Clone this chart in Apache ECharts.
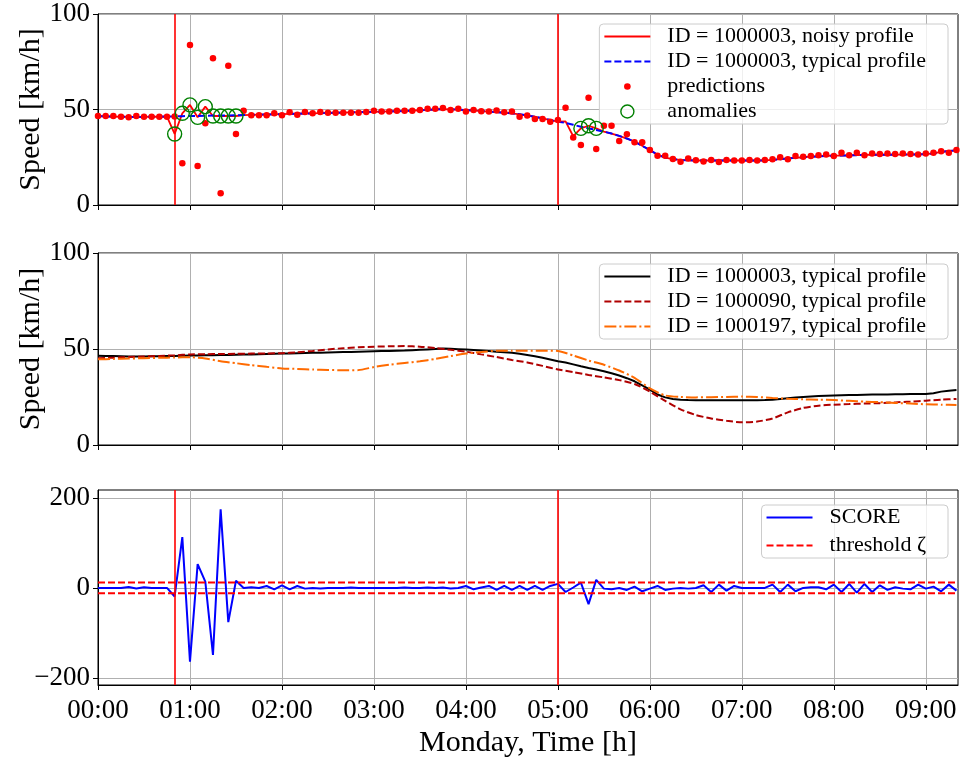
<!DOCTYPE html>
<html>
<head>
<meta charset="utf-8">
<script src="https://cdn.jsdelivr.net/npm/echarts@6/dist/echarts.min.js"></script>
<style>
  html, body { margin: 0; padding: 0; background: #fff; }
  #chart { width: 963px; height: 762px; }
</style>
</head>
<body>
<div id="chart"></div>
<script>
// Sampling of the profiles, in minutes after midnight (Monday)
const STEP_MIN = 5;        // detector 1000003: one value every 5 min
const MID_STEP_MIN = 10;   // neighbour detectors: one value every 10 min
const timeRange = [0, 561];
const hourTicks = [0, 60, 120, 180, 240, 300, 360, 420, 480, 540];
const speedTicks = [0, 50, 100];
const scoreTicks = [-200, 0, 200];
const scoreRange = [-216, 218];
const eventTimes = [50, 300];   // injected disturbances at 00:50 and 05:00
const threshold = 12;

// ID = 1000003, typical profile [km/h]
const typical03 = [
  46.5, 46.4, 46.3, 46.2, 46.1, 46.1, 46.1, 46.2, 46.2, 46.3,
  46.4, 46.5, 46.6, 46.6, 46.7, 46.8, 46.9, 46.9, 47.0, 47.1,
  47.2, 47.3, 47.4, 47.5, 47.6, 47.7, 47.8, 47.9, 48.0, 48.1,
  48.2, 48.3, 48.4, 48.5, 48.6, 48.7, 48.8, 48.9, 49.0, 49.1,
  49.2, 49.4, 49.6, 49.8, 50.0, 50.2, 50.1, 49.9, 49.7, 49.5,
  49.2, 48.9, 48.6, 48.3, 48.0, 47.5, 46.9, 46.2, 45.4, 44.5,
  43.6, 43.0, 42.0, 41.0, 40.1, 39.3, 38.4, 37.4, 36.2, 34.8,
  33.2, 31.0, 28.8, 26.3, 24.8, 24.0, 23.6, 23.4, 23.3, 23.3,
  23.3, 23.3, 23.3, 23.3, 23.3, 23.3, 23.3, 23.4, 23.6, 24.0,
  24.4, 24.7, 25.0, 25.3, 25.5, 25.7, 25.8, 25.9, 26.0, 26.1,
  26.2, 26.3, 26.3, 26.3, 26.4, 26.4, 26.5, 26.5, 26.6, 27.0,
  27.8, 28.3, 28.6
];

// ID = 1000003, noisy profile [km/h]
const noisy03 = [
  46.5, 46.4, 46.3, 46.2, 46.1, 46.1, 46.1, 46.2, 46.2, 46.3,
  37.2, 48.0, 52.4, 45.9, 51.5, 46.6, 46.6, 46.6, 46.6, 47.1,
  47.2, 47.3, 47.4, 47.5, 47.6, 47.7, 47.8, 47.9, 48.0, 48.1,
  48.2, 48.3, 48.4, 48.5, 48.6, 48.7, 48.8, 48.9, 49.0, 49.1,
  49.2, 49.4, 49.6, 49.8, 50.0, 50.2, 50.1, 49.9, 49.7, 49.5,
  49.2, 48.9, 48.6, 48.3, 48.0, 47.5, 46.9, 46.2, 45.4, 44.5,
  43.6, 43.8, 36.0, 40.1, 41.5, 40.1, 38.4, 37.4, 36.2, 34.8,
  33.2, 31.0, 28.8, 26.3, 24.8, 24.0, 23.6, 23.4, 23.3, 23.3,
  23.3, 23.3, 23.3, 23.3, 23.3, 23.3, 23.3, 23.4, 23.6, 24.0,
  24.4, 24.7, 25.0, 25.3, 25.5, 25.7, 25.8, 25.9, 26.0, 26.1,
  26.2, 26.3, 26.3, 26.3, 26.4, 26.4, 26.5, 26.5, 26.6, 27.0,
  27.8, 28.3, 28.6
];

// model predictions [km/h]
const predictions = [
  46.6, 46.6, 46.6, 46.2, 45.9, 46.6, 46.2, 46.2, 46.2, 46.2,
  46.3, 21.8, 83.8, 20.4, 42.8, 76.8, 6.1, 72.9, 37.2, 49.4,
  47.0, 47.0, 47.0, 48.0, 47.0, 48.5, 47.3, 48.7, 48.0, 48.7,
  48.3, 48.3, 48.3, 48.3, 48.3, 48.7, 49.4, 49.0, 49.0, 49.4,
  49.4, 49.4, 49.7, 50.4, 50.4, 50.8, 49.7, 50.4, 49.0, 49.7,
  49.1, 49.0, 49.5, 48.5, 48.9, 46.2, 46.8, 45.0, 45.0, 43.6,
  44.5, 50.9, 35.3, 31.4, 56.2, 29.3, 41.5, 41.5, 33.5, 37.0,
  32.8, 32.8, 28.8, 25.8, 25.8, 24.1, 22.7, 24.4, 23.4, 22.8,
  23.6, 22.5, 23.6, 23.3, 23.3, 23.6, 23.3, 23.6, 23.9, 25.0,
  23.9, 25.7, 25.3, 25.7, 26.0, 26.4, 25.7, 27.4, 26.0, 27.4,
  26.0, 27.0, 26.7, 27.0, 26.7, 27.0, 26.7, 26.4, 27.0, 27.4,
  28.1, 27.4, 28.8
];

// samples flagged as anomalies (indices into the 5-min series)
const anomalyIdx = [10, 11, 12, 13, 14, 15, 16, 17, 18, 63, 64, 65];

// anomaly score
const score = [
  0, 0, 0, 0, 2, -1, 1.5, 0, 0, 0,
  -19, 113, -164, 53, 14, -149, 175, -76, 16, 0,
  1.5, 0, 4.4, -3, 5.9, -3, 4.4, -1.5, 0, -1,
  0, 0, 0, 1, 0, 0, 0, 0, 0, 0,
  1, 0, 0, 1, 0, 1, -1, 0, 4.4, -3,
  1, 4.4, -4.4, 4.4, -4.4, 4.4, -4.4, 4.4, -4.4, 4.4,
  9, -9, 1, 12, -36, 18, -1.5, -3, 0, -4.4,
  3, -7.4, -1.5, 4.4, -4.4, -1.5, 0, -1.5, 0, 5.9,
  -8.9, 7.4, -5.9, 4.4, 0, 0, 0, 0, 7.4, -8.9,
  7.4, -7.4, 0, 1.5, 1.5, -3, 7.4, -8.9, 8.9, -10.4,
  8.9, -8.9, 5.9, -4.4, 1.5, -1.5, -3, 7.4, -1.5, 3,
  -7.4, 7.4, -5.9
];

// ID = 1000090, typical profile [km/h], 10-min steps
const typical90 = [
  45.2, 45.5, 45.8, 46.1, 46.4, 46.7, 47.2, 47.3, 47.4, 47.5,
  47.6, 47.7, 47.8, 48.3, 49.0, 49.8, 50.4, 50.9, 51.2, 51.4,
  51.5, 51.2, 50.5, 49.6, 48.6, 47.2, 45.8, 44.3, 43.0, 41.2,
  39.3, 38.0, 36.5, 35.2, 33.8, 31.8, 27.8, 23.0, 18.6, 15.6,
  13.8, 12.6, 11.8, 12.2, 13.8, 17.0, 19.3, 20.5, 21.0, 21.3,
  21.6, 21.8, 22.2, 22.6, 23.1, 23.6, 24.0
];

// ID = 1000197, typical profile [km/h], 10-min steps
const typical197 = [
  44.6, 44.8, 45.0, 45.2, 45.4, 45.6, 45.7, 45.1, 43.6, 42.6,
  41.6, 40.7, 39.9, 39.6, 39.3, 39.1, 38.9, 39.0, 40.6, 41.8,
  42.7, 43.6, 44.8, 46.3, 47.6, 48.4, 49.1, 49.1, 49.1, 49.1,
  49.0, 46.6, 44.0, 41.8, 38.8, 35.0, 29.5, 25.8, 25.0, 24.8,
  24.9, 25.0, 25.2, 25.0, 24.5, 24.1, 23.8, 23.6, 23.4, 23.0,
  22.6, 22.3, 21.9, 21.6, 21.2, 21.0, 20.8
];

const legendLabels = {
  noisy03: 'ID = 1000003, noisy profile',
  typical03: 'ID = 1000003, typical profile',
  pred: 'predictions',
  anom: 'anomalies',
  mid03: 'ID = 1000003, typical profile',
  mid90: 'ID = 1000090, typical profile',
  mid197: 'ID = 1000197, typical profile',
  score: 'SCORE',
  thr: 'threshold \u03B6'
};

// ---------------------------------------------------------------------------
const FONT = '"Liberation Serif", "DejaVu Serif", serif';
const pairs = (vals, step) => vals.map((v, i) => [i * step, v]);
const hhmm = m => String(Math.floor(m / 60)).padStart(2, '0') + ':' + String(m % 60).padStart(2, '0');
const minus = v => (v < 0 ? '\u2212' + (-v) : String(v));

const gridBox = [
  { top: 14, height: 191 },
  { top: 253, height: 192 },
  { top: 490, height: 195 }
];

function timeAxis(gridIndex, withLabels) {
  return {
    type: 'value', gridIndex, min: timeRange[0], max: timeRange[1],
    axisLine: { show: true, onZero: false, lineStyle: { color: '#000', width: 1 } },
    axisTick: { show: true, inside: false, length: 5, customValues: hourTicks, lineStyle: { color: '#000', width: 1 } },
    axisLabel: { show: withLabels, customValues: hourTicks, formatter: hhmm, color: '#000',
                 fontFamily: FONT, fontSize: 27, margin: 12 },
    splitLine: { show: true, lineStyle: { color: '#b0b0b0', width: 1 } },
    name: withLabels ? 'Monday, Time [h]' : '',
    nameLocation: 'middle', nameGap: 43, nameMoveOverlap: false,
    nameTextStyle: { color: '#000', fontFamily: FONT, fontSize: 30 }
  };
}

function valueAxis(gridIndex, range, ticks, name, fmt) {
  return {
    type: 'value', gridIndex, min: range[0], max: range[1],
    axisLine: { show: true, onZero: false, lineStyle: { color: '#000', width: 1 } },
    axisTick: { show: true, inside: false, length: 5, customValues: ticks, lineStyle: { color: '#000', width: 1 } },
    axisLabel: { customValues: ticks, formatter: fmt || (v => String(v)), color: '#000',
                 fontFamily: FONT, fontSize: 27, margin: 8 },
    splitLine: { show: true, lineStyle: { color: '#b0b0b0', width: 1 } },
    name, nameLocation: 'middle', nameGap: 52, nameMoveOverlap: false,
    nameTextStyle: { color: '#000', fontFamily: FONT, fontSize: 30 }
  };
}

const eventLines = {
  silent: true, symbol: ['none', 'none'], label: { show: false },
  lineStyle: { color: '#ff0000', width: 1.6, type: 'solid' },
  emphasis: { disabled: true },
  data: eventTimes.map(t => ({ xAxis: t }))
};

const PRED_ICON = 'path://M0,0M24,24M12,7.6A4.4,4.4,0,1,1,12,16.4A4.4,4.4,0,1,1,12,7.6Z';
const ANOM_ICON = 'path://M0,0M24,24M12,3.3A8.7,8.7,0,1,1,12,20.7A8.7,8.7,0,1,1,12,3.3Z';
const NO_SYMBOL = { opacity: 0 };   // legend entries of line series: handle only

function legendBox(top, data, gap) {
  return {
    orient: 'vertical', right: 15, top,
    data, selectedMode: false,
    formatter: n => legendLabels[n],
    itemWidth: 46, itemHeight: 18, itemGap: gap || 0,
    padding: [0, 22, 0, 4],
    backgroundColor: 'rgba(255,255,255,0.8)',
    borderColor: '#cccccc', borderWidth: 1, borderRadius: 4,
    textStyle: { color: '#000', fontFamily: FONT, fontSize: 22, lineHeight: 25, padding: [0, 0, 0, 12] }
  };
}

const anomalies = anomalyIdx.map(i => [i * STEP_MIN, noisy03[i]]);
const lineBase = { type: 'line', symbol: 'none', showSymbol: false, animation: false, emphasis: { disabled: true } };

const option = {
  animation: false,
  backgroundColor: '#fff',
  grid: gridBox.map(g => ({
    left: 98, width: 860, top: g.top, height: g.height,
    show: true, borderColor: '#000', borderWidth: 1, backgroundColor: 'transparent',
    containLabel: false, outerBoundsMode: 'none'
  })),
  xAxis: [timeAxis(0, false), timeAxis(1, false), timeAxis(2, true)],
  yAxis: [
    valueAxis(0, [0, 100], speedTicks, 'Speed [km/h]'),
    valueAxis(1, [0, 100], speedTicks, 'Speed [km/h]'),
    valueAxis(2, scoreRange, scoreTicks, '', minus)
  ],
  legend: [
    legendBox(24, [
      { name: 'noisy03', itemStyle: NO_SYMBOL },
      { name: 'typical03', itemStyle: NO_SYMBOL },
      { name: 'pred', icon: PRED_ICON },
      { name: 'anom', icon: ANOM_ICON,
        itemStyle: { color: 'rgba(0,0,0,0)', borderColor: '#008000', borderWidth: 1.4 } }
    ]),
    legendBox(264, [
      { name: 'mid03', itemStyle: NO_SYMBOL },
      { name: 'mid90', itemStyle: NO_SYMBOL },
      { name: 'mid197', itemStyle: NO_SYMBOL }
    ]),
    legendBox(505, [
      { name: 'score', itemStyle: NO_SYMBOL },
      { name: 'thr', itemStyle: NO_SYMBOL }
    ], 3)
  ],
  series: [
    // top panel
    Object.assign({}, lineBase, {
      name: 'noisy03', xAxisIndex: 0, yAxisIndex: 0, z: 2,
      data: pairs(noisy03, STEP_MIN),
      lineStyle: { color: '#ff0000', width: 1.8 }, itemStyle: { color: '#ff0000' },
      markLine: eventLines
    }),
    Object.assign({}, lineBase, {
      name: 'typical03', xAxisIndex: 0, yAxisIndex: 0, z: 3,
      data: pairs(typical03, STEP_MIN),
      lineStyle: { color: '#0000ff', width: 2, type: [7, 3] }, itemStyle: { color: '#0000ff' }
    }),
    {
      name: 'pred', type: 'scatter', xAxisIndex: 0, yAxisIndex: 0, z: 4,
      data: pairs(predictions, STEP_MIN), symbol: 'circle', symbolSize: 6.5,
      itemStyle: { color: '#ff0000', opacity: 1 }, emphasis: { disabled: true }
    },
    {
      name: 'anom', type: 'scatter', xAxisIndex: 0, yAxisIndex: 0, z: 5,
      data: anomalies, symbol: 'circle', symbolSize: 14,
      itemStyle: { color: 'rgba(0,0,0,0)', borderColor: '#008000', borderWidth: 1.4, opacity: 1 },
      emphasis: { disabled: true }
    },
    // middle panel
    Object.assign({}, lineBase, {
      name: 'mid03', xAxisIndex: 1, yAxisIndex: 1, z: 3,
      data: pairs(typical03, STEP_MIN),
      lineStyle: { color: '#000000', width: 2 }, itemStyle: { color: '#000000' }
    }),
    Object.assign({}, lineBase, {
      name: 'mid90', xAxisIndex: 1, yAxisIndex: 1, z: 4, smooth: 0.2,
      data: pairs(typical90, MID_STEP_MIN),
      lineStyle: { color: '#b00000', width: 2, type: [7, 3] }, itemStyle: { color: '#b00000' }
    }),
    Object.assign({}, lineBase, {
      name: 'mid197', xAxisIndex: 1, yAxisIndex: 1, z: 5, smooth: 0.2,
      data: pairs(typical197, MID_STEP_MIN),
      lineStyle: { color: '#ff6a00', width: 2, type: [12, 3, 2, 3] }, itemStyle: { color: '#ff6a00' }
    }),
    // bottom panel
    Object.assign({}, lineBase, {
      name: 'score', xAxisIndex: 2, yAxisIndex: 2, z: 3,
      data: pairs(score, STEP_MIN),
      lineStyle: { color: '#0000ff', width: 2 }, itemStyle: { color: '#0000ff' },
      markLine: eventLines
    }),
    Object.assign({}, lineBase, {
      name: 'thr', xAxisIndex: 2, yAxisIndex: 2, z: 4,
      data: [[timeRange[0], threshold], [timeRange[1], threshold]],
      lineStyle: { color: '#ff0000', width: 2, type: [7, 3] }, itemStyle: { color: '#ff0000' }
    }),
    Object.assign({}, lineBase, {
      name: 'thr', xAxisIndex: 2, yAxisIndex: 2, z: 4,
      data: [[timeRange[0], -threshold], [timeRange[1], -threshold]],
      lineStyle: { color: '#ff0000', width: 2, type: [7, 3] }, itemStyle: { color: '#ff0000' }
    })
  ]
};

const chart = echarts.init(document.getElementById('chart'), null, { renderer: 'canvas' });
chart.setOption(option);
</script>
</body>
</html>
